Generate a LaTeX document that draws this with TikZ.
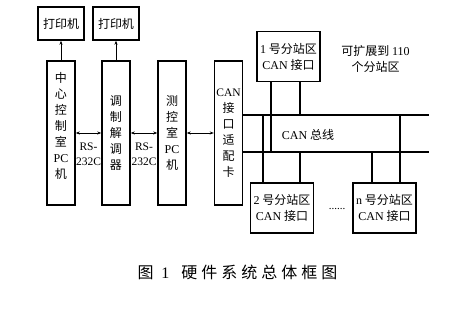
\documentclass[tikz,border=0pt]{standalone}
\usepackage{fontspec}
\setmainfont{Liberation Serif}
\newfontfamily\cjk{Noto Sans CJK SC}
\newfontfamily\cjkwide[LetterSpace=25]{Noto Sans CJK SC}
\usetikzlibrary{arrows.meta}

\begin{document}
\begin{tikzpicture}[x=1pt, y=-1pt,
  every node/.style={font=\cjk\fontsize{12}{16}\selectfont},
  box/.style={draw, line width=1.4pt, inner sep=0pt, align=center},
  unit/.style={box, minimum width=28pt, minimum height=144pt},
  printer/.style={box, minimum width=46pt, minimum height=33pt},
  station/.style={box, minimum width=63pt, minimum height=50pt},
  link/.style={line width=0.9pt, {Stealth[length=4pt,width=3pt]}-{Stealth[length=4pt,width=3pt]}},
  up/.style={line width=0.9pt, -{Stealth[length=4pt,width=3pt]}},
  bus/.style={line width=1.4pt},
  tap/.style={line width=1.2pt}
]
  \useasboundingbox (0,0) rectangle (467,315);

  % Printers
  \node[printer] (prn1) at (61,23.5)  {打印机};
  \node[printer] (prn2) at (116,23.5) {打印机};

  % Main chain
  \node[unit] (pcA)   at (61,133)    {中\\心\\控\\制\\室\\{\rmfamily PC}\\机\\\mbox{}};
  \node[unit] (modem) at (116,133)   {调\\制\\解\\调\\器};
  \node[unit] (pcB)   at (172,133)   {测\\控\\室\\{\rmfamily PC}\\机};
  \node[unit] (card)  at (228.5,133) {{\rmfamily\fontsize{11.5}{16}\selectfont CAN}\\接\\口\\适\\配\\卡};

  % RS-232C labels
  \node[font=\rmfamily\fontsize{11.5}{15}\selectfont, align=center] (rsA) at (88.5,154) {RS-\\232C};
  \node[font=\rmfamily\fontsize{11.5}{15}\selectfont, align=center] (rsB) at (144,154) {RS-\\232C};

  % Links
  \draw[up] (pcA) -- (prn1);
  \draw[up] (modem) -- (prn2);
  \draw[link] (pcA) -- (modem);
  \draw[link] (modem) -- (pcB);
  \draw[link] (pcB) -- (card);

  % Sub-stations
  \node[station] (st1) at (288.5,56.5) {{\rmfamily 1} 号分站区\\{\rmfamily CAN} 接口};
  \node[station] (st2) at (282,208)    {{\rmfamily 2} 号分站区\\{\rmfamily CAN} 接口};
  \node[station] (stn) at (384.5,208)  {{\rmfamily n} 号分站区\\{\rmfamily CAN} 接口};
  \node[font=\rmfamily\fontsize{11}{14}\selectfont] (dots) at (337,209) {......};
  \node[align=center] (more) at (375.5,58.5) {可扩展到 {\rmfamily 110}\\个分站区};

  % CAN bus
  \coordinate (busA) at (429,115);
  \coordinate (busB) at (429,152);
  \draw[bus] (card.east |- busA) -- (busA);
  \draw[bus] (card.east |- busB) -- (busB);
  \node (busname) at (308,135) {{\rmfamily CAN} 总线};

  % Taps
  \coordinate (t1a) at (271,152);
  \coordinate (t1b) at (300,115);
  \coordinate (t2a) at (263,115);
  \coordinate (t2b) at (300,152);
  \coordinate (tna) at (372,152);
  \coordinate (tnb) at (400,115);
  \draw[tap] (st1.south -| t1a) -- (t1a);
  \draw[tap] (st1.south -| t1b) -- (t1b);
  \draw[tap] (st2.north -| t2a) -- (t2a);
  \draw[tap] (st2.north -| t2b) -- (t2b);
  \draw[tap] (stn.north -| tna) -- (tna);
  \draw[tap] (stn.north -| tnb) -- (tnb);

  % Caption
  \node[font=\cjkwide\fontsize{16}{18}\selectfont] (caption) at (237.5,272)
       {图 {\rmfamily 1}\hspace{12pt}硬件系统总体框图};
\end{tikzpicture}
\end{document}
